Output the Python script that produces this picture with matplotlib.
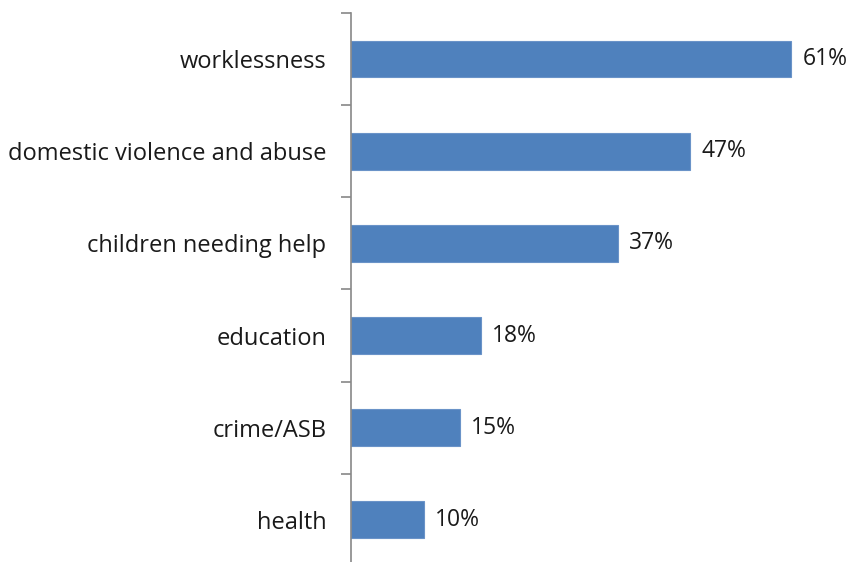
import matplotlib
matplotlib.use("Agg")
import matplotlib.pyplot as plt
import numpy as np

categories = ["worklessness", "domestic violence and abuse", "children needing help",
              "education", "crime/ASB", "health"]
values = [61, 47, 37, 18, 15, 10]
value_labels = ["61%", "47%", "37%", "18%", "15%", "10%"]

plt.rcParams['font.family'] = ['Open Sans', 'DejaVu Sans']

fig = plt.figure(figsize=(8.51, 5.62), dpi=100)
ax = fig.add_axes([0.413, -0.007, 0.587, 0.984])

n = len(categories)
y = np.arange(n)
ax.barh(y, values, height=0.4, color="#4F81BD", edgecolor="#6A93C8", linewidth=0.8)
ax.set_ylim(n - 0.5, -0.5)
ax.set_xlim(0, 69.3)

for yi, v, lab in zip(y, values, value_labels):
    ax.annotate(lab, (v, yi), xytext=(8, 0), textcoords="offset points",
                va="center", ha="left", fontsize=16.5, color="#1a1a1a")

ax.set_yticks(y)
ax.set_yticklabels(categories, fontsize=17, color="#1a1a1a")
ax.tick_params(axis="y", which="major", length=0, pad=18)
ax.set_yticks(np.arange(n + 1) - 0.5, minor=True)
ax.tick_params(axis="y", which="minor", length=7, width=1.2, color="#888888", direction="out")
ax.set_xticks([])
for s in ["top", "right", "bottom"]:
    ax.spines[s].set_visible(False)
ax.spines["left"].set_color("#888888")
ax.spines["left"].set_linewidth(1.2)

fig.savefig("out.png", dpi=100)
